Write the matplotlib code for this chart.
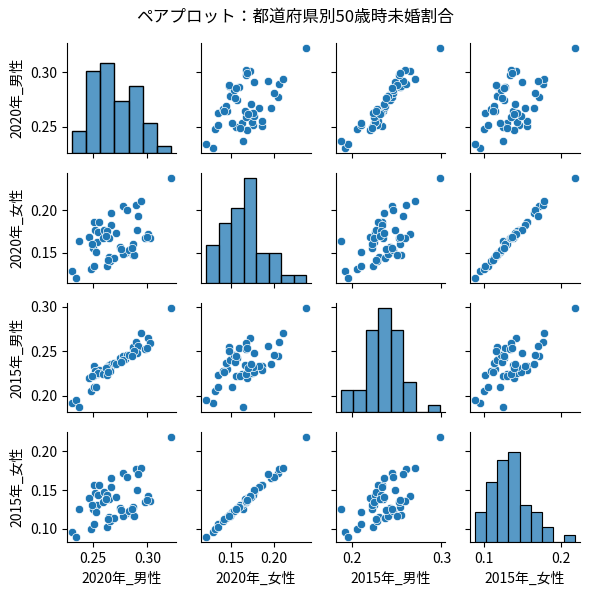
import numpy as np
import pandas as pd
import matplotlib
matplotlib.use('Agg')
import matplotlib.pyplot as plt
import seaborn as sns

plt.rcParams['font.family'] = ['Noto Sans CJK JP', 'DejaVu Sans']

# 都道府県別 50歳時未婚割合 (47 points)
male_2020 = [
  0.2302, 0.2338, 0.2369,
  0.2476, 0.2512, 0.2506, 0.2555, 0.2515, 0.2466, 0.2537, 0.2497, 0.2530, 0.2545, 0.2490,
  0.2598, 0.2591, 0.2649, 0.2668, 0.2668, 0.2628, 0.2649, 0.2659, 0.2695, 0.2628, 0.2620, 0.2640,
  0.2713, 0.2750, 0.2796, 0.2774, 0.2811, 0.2780, 0.2760,
  0.2866, 0.2872, 0.2896, 0.2942, 0.2918, 0.2909, 0.2835, 0.2880, 0.2855,
  0.2979, 0.3009, 0.3024, 0.2995,
  0.3223,
]
female_2020 = [
  0.1285, 0.1207, 0.1640,
  0.1312, 0.1345, 0.1863, 0.1863, 0.1762, 0.1688, 0.1629, 0.1559, 0.1508, 0.1740, 0.1600,
  0.1773, 0.1676, 0.1668, 0.1832, 0.1969, 0.1344, 0.1453, 0.1402, 0.1441, 0.1754, 0.1700, 0.1420,
  0.1738, 0.1570, 0.1495, 0.2047, 0.2008, 0.1490, 0.1540,
  0.1598, 0.1480, 0.2066, 0.2113, 0.1930, 0.1773, 0.1531, 0.1470, 0.1560,
  0.1676, 0.1723, 0.1676, 0.1690,
  0.2379,
]
male_2015 = [
  0.1917, 0.1955, 0.1872,
  0.2060, 0.2105, 0.2338, 0.2293, 0.2280, 0.2199, 0.2250, 0.2218, 0.2095, 0.2260, 0.2220,
  0.2270, 0.2248, 0.2350, 0.2331, 0.2361, 0.2237, 0.2300, 0.2275, 0.2370, 0.2320, 0.2310, 0.2265,
  0.2361, 0.2420, 0.2414, 0.2444, 0.2462, 0.2400, 0.2380,
  0.2538, 0.2545, 0.2600, 0.2700, 0.2564, 0.2481, 0.2460, 0.2500, 0.2450,
  0.2520, 0.2643, 0.2594, 0.2538,
  0.2989,
]
female_2015 = [
  0.0957, 0.0892, 0.1250,
  0.1000, 0.1060, 0.1569, 0.1560, 0.1461, 0.1400, 0.1310, 0.1254, 0.1220, 0.1430, 0.1300,
  0.1480, 0.1350, 0.1380, 0.1540, 0.1650, 0.1020, 0.1150, 0.1100, 0.1140, 0.1440, 0.1390, 0.1120,
  0.1409, 0.1267, 0.1190, 0.1720, 0.1668, 0.1170, 0.1240,
  0.1280, 0.1175, 0.1772, 0.1780, 0.1711, 0.1500, 0.1230, 0.1160, 0.1260,
  0.1340, 0.1420, 0.1360, 0.1370,
  0.2185,
]
columns = ['2020年_男性', '2020年_女性', '2015年_男性', '2015年_女性']
hist_bins = [7, 8, 8, 9]

df = pd.DataFrame(dict(zip(columns, [male_2020, female_2020, male_2015, female_2015])))

g = sns.pairplot(df, height=1.5)
g.fig.set_size_inches(5.9, 5.93)
for i, col in enumerate(columns):
  ax = g.diag_axes[i]
  for p in list(ax.patches):
    p.remove()
  sns.histplot(df[col], bins=hist_bins[i], ax=ax, color='C0')
  ax.set_xlabel('')
  ax.set_ylabel('')
  ax.relim()
  ax.autoscale_view()

plt.subplots_adjust(left=0.113, right=0.983, top=0.927, bottom=0.086,
                    wspace=0.225, hspace=0.18)
g.fig.suptitle('ペアプロット：都道府県別50歳時未婚割合', fontsize=12, y=0.985)
g.fig.savefig('out.png', dpi=100)
